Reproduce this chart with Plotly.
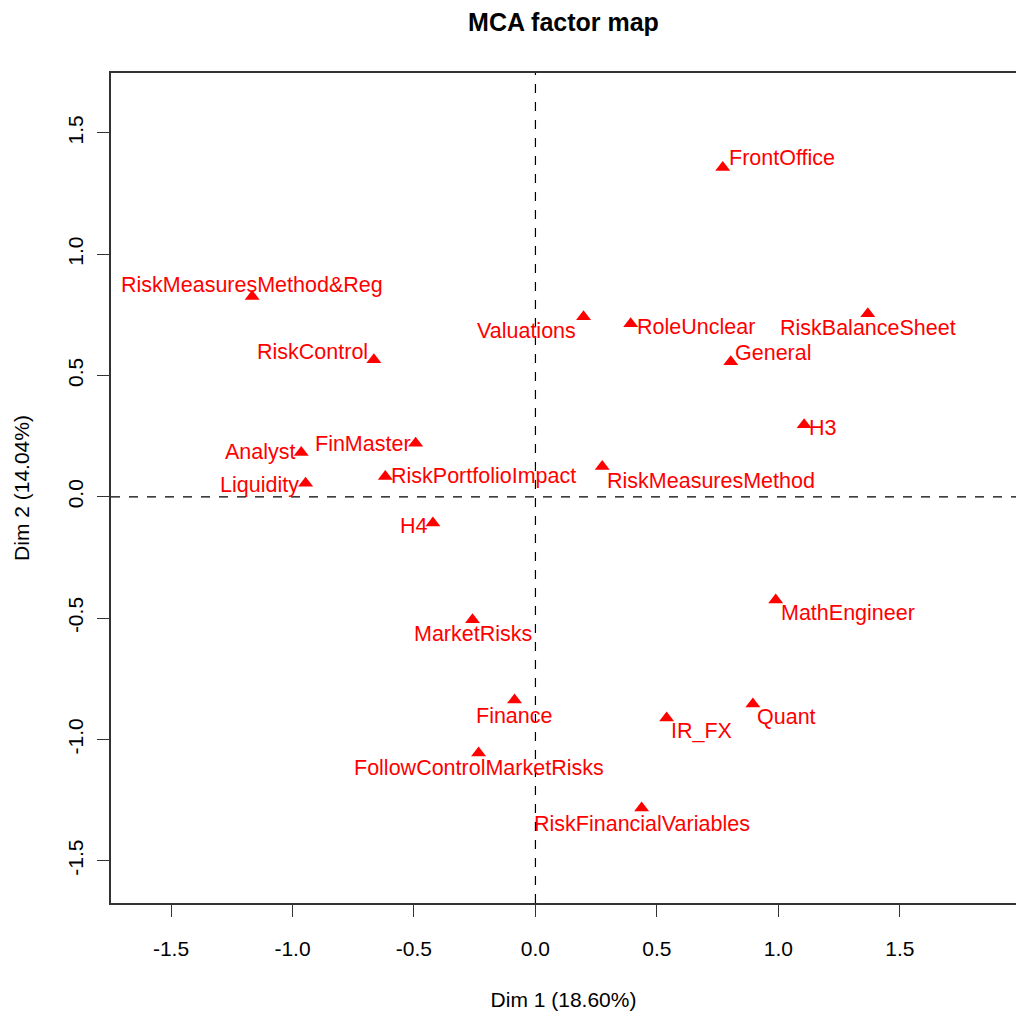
import plotly.graph_objects as go

labels = ["FrontOffice", "RiskMeasuresMethod&Reg", "Valuations", "RoleUnclear",
          "RiskBalanceSheet", "General", "RiskControl", "H3", "FinMaster", "Analyst",
          "RiskPortfolioImpact", "RiskMeasuresMethod", "Liquidity", "H4",
          "MathEngineer", "MarketRisks", "Finance", "Quant", "IR_FX",
          "FollowControlMarketRisks", "RiskFinancialVariables"]
dim1 = [0.771, -1.166, 0.198, 0.392, 1.368, 0.804, -0.665, 1.106, -0.493, -0.964,
        -0.618, 0.275, -0.946, -0.422, 0.989, -0.259, -0.086, 0.895, 0.540,
        -0.234, 0.437]
dim2 = [1.357, 0.826, 0.742, 0.713, 0.755, 0.557, 0.565, 0.297, 0.221, 0.183,
        0.084, 0.125, 0.056, -0.108, -0.425, -0.507, -0.837, -0.854, -0.911,
        -1.056, -1.282]

# label offsets in pixels (style only)
dx = [59, 0, -57, 65, 0, 43, -61, 19, -53, -41, 98, 109, -46, -19, 72, 0, 0, 34, 35, 0, 0]
dy = [10, 11, -14, -3, -14, 9, 8, -3, -1, 0, 0, -14, -2, -3, -13, -14, -16, -13, -13, -15, -16]

tickvals = [-1.5, -1.0, -0.5, 0.0, 0.5, 1.0, 1.5]
ticktext = ["-1.5", "-1.0", "-0.5", "0.0", "0.5", "1.0", "1.5"]

FONT = "Liberation Sans, Arial, sans-serif"
RED = "#FF0000"

fig = go.Figure()
fig.add_trace(go.Scatter(
    x=dim1, y=dim2, mode="markers",
    marker=dict(symbol="triangle-up", size=13, color=RED),
    hoverinfo="text", text=labels, showlegend=False,
))

for lab, x, y, sx, sy in zip(labels, dim1, dim2, dx, dy):
    fig.add_annotation(x=x, y=y, text=lab, showarrow=False,
                       xshift=sx, yshift=sy, xanchor="center", yanchor="middle",
                       font=dict(family=FONT, size=21.5, color=RED))

fig.add_hline(y=0, line=dict(color="black", width=1.2, dash="dash"))
fig.add_vline(x=0, line=dict(color="black", width=1.2, dash="dash"))

fig.update_layout(
    width=1016, height=1012,
    margin=dict(l=111, r=0, t=73, b=109),
    paper_bgcolor="white", plot_bgcolor="white",
    font=dict(family=FONT, size=21, color="black"),
    title=dict(text="<b>MCA factor map</b>", x=0.5, xref="paper", xanchor="center",
               y=1 - 22 / 1012, yanchor="middle",
               font=dict(family=FONT, size=25, color="black")),
    xaxis=dict(range=[-1.747, 1.978], tickvals=tickvals, ticktext=ticktext,
               showgrid=False, zeroline=False, showline=True, mirror=True,
               linecolor="#333333", linewidth=1.5,
               ticks="outside", ticklen=12, tickwidth=1.2, tickcolor="#333333",
               ticklabelstandoff=14,
               title=dict(text="Dim 1 (18.60%)", standoff=33,
                          font=dict(family=FONT, size=21))),
    yaxis=dict(range=[-1.674, 1.747], tickvals=tickvals, ticktext=ticktext,
               showgrid=False, zeroline=False, showline=True, mirror=False,
               linecolor="#333333", linewidth=1.5,
               ticks="outside", ticklen=12, tickwidth=1.2, tickcolor="#333333",
               tickangle=-90, ticklabelstandoff=6,
               title=dict(text="Dim 2 (14.04%)", standoff=28,
                          font=dict(family=FONT, size=21))),
)

fig.write_html("out.html", config={"displayModeBar": False},
               post_script="document.body.style.margin='0';document.body.style.overflow='hidden';")
